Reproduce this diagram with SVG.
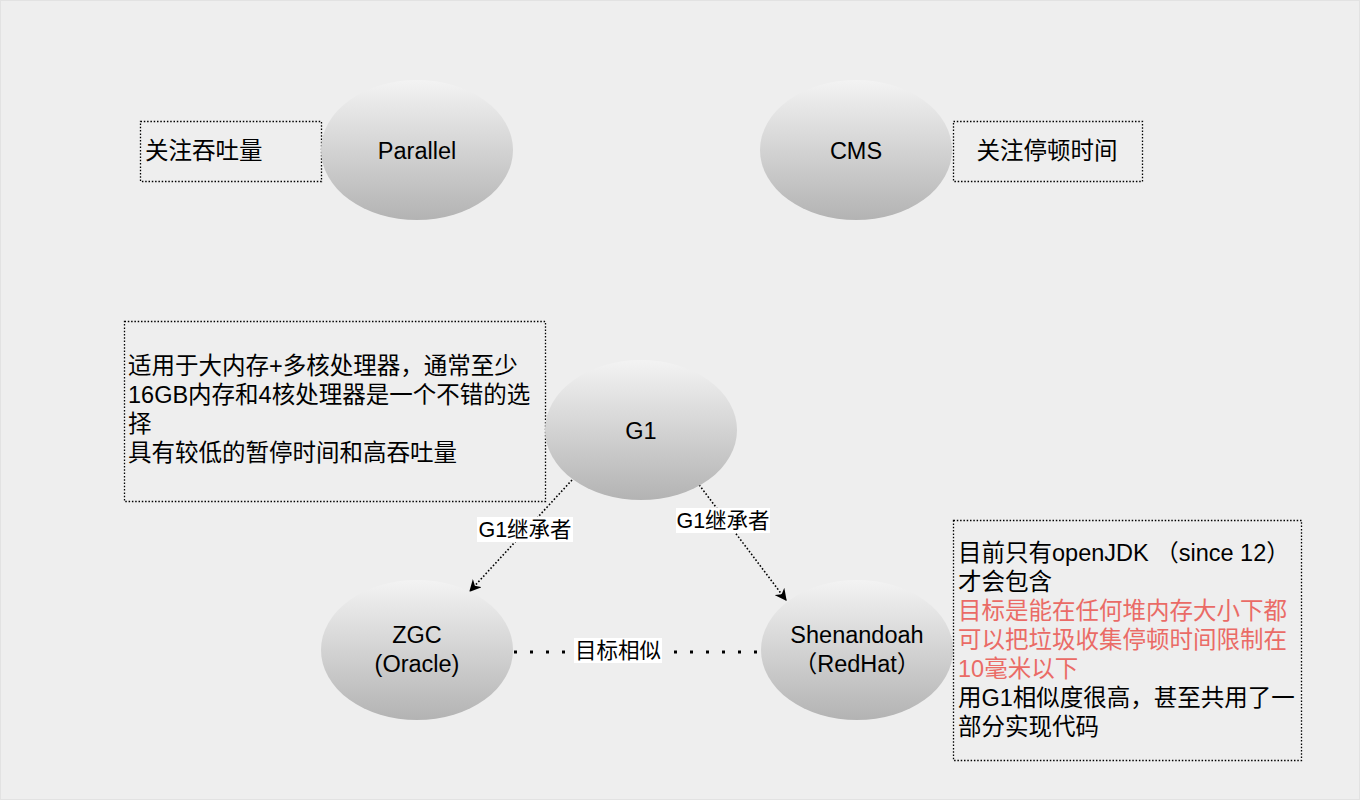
<svg xmlns="http://www.w3.org/2000/svg" width="1360" height="800" viewBox="0 0 1360 800">
<defs>
<linearGradient id="eg" x1="0" y1="0" x2="0" y2="1">
<stop offset="0" stop-color="#f3f3f3"/>
<stop offset="1" stop-color="#b3b3b3"/>
</linearGradient>
<marker id="arr" viewBox="0 0 10 10" refX="9" refY="5" markerWidth="12" markerHeight="12" markerUnits="userSpaceOnUse" orient="auto">
<path d="M0,0 L10,5 L0,10 L3,5 Z" fill="#000"/>
</marker>
<style>
.ell{fill:url(#eg);stroke:none}
.box{fill:none;stroke:#000;stroke-width:1.3;stroke-dasharray:1.5 1.8}
.t{font-family:"Liberation Sans","Noto Sans CJK SC",sans-serif;font-size:23.5px;fill:#000}
.c{text-anchor:middle}
.red{fill:#ea6b66}
.lbl{font-family:"Liberation Sans","Noto Sans CJK SC",sans-serif;font-size:21.5px;fill:#000;text-anchor:middle}
.edge{fill:none;stroke:#000;stroke-width:1.6;stroke-dasharray:1.6 2}
</style>
</defs>
<rect x="0" y="0" width="1360" height="800" fill="#eeeeee"/>
<rect x="0.5" y="0.5" width="1359" height="799" fill="none" stroke="#e2e2e2"/>

<g id="connectors">
<path class="edge" d="M572,480 L470,591" marker-end="url(#arr)"/>
<path class="edge" d="M697,482 L786,600" marker-end="url(#arr)"/>
<path d="M514,652 L760,652" fill="none" stroke="#000" stroke-width="3" stroke-dasharray="3 13"/>
<rect x="477" y="517" width="96" height="25" fill="#ffffff"/>
<text class="lbl" x="525" y="537">G1继承者</text>
<rect x="676" y="508" width="94" height="25" fill="#ffffff"/>
<text class="lbl" x="723" y="528">G1继承者</text>
<rect x="574" y="638" width="88" height="25" fill="#ffffff"/>
<text class="lbl" x="618" y="658">目标相似</text>
</g>

<g id="note-parallel">
<rect class="box" x="140.5" y="121.5" width="181" height="60"/>
<text class="t" x="145" y="159">关注吞吐量</text>
</g>
<g id="parallel">
<ellipse class="ell" cx="417" cy="150" rx="96" ry="70"/>
<text class="t c" x="417" y="159">Parallel</text>
</g>
<g id="cms">
<ellipse class="ell" cx="856" cy="150" rx="96" ry="70"/>
<text class="t c" x="856" y="159">CMS</text>
</g>
<g id="note-cms">
<rect class="box" x="953.5" y="121.5" width="189" height="60"/>
<text class="t c" x="1047" y="159">关注停顿时间</text>
</g>
<g id="note-g1">
<rect class="box" x="124.5" y="321.5" width="421" height="180"/>
<text class="t" x="128" y="374">适用于大内存+多核处理器，通常至少</text>
<text class="t" x="128" y="403">16GB内存和4核处理器是一个不错的选</text>
<text class="t" x="128" y="432">择</text>
<text class="t" x="128" y="461">具有较低的暂停时间和高吞吐量</text>
</g>
<g id="g1">
<ellipse class="ell" cx="641" cy="430" rx="96" ry="70"/>
<text class="t c" x="641" y="439">G1</text>
</g>
<g id="zgc">
<ellipse class="ell" cx="417" cy="650" rx="96" ry="70"/>
<text class="t c" x="417" y="643">ZGC</text>
<text class="t c" x="417" y="672">(Oracle)</text>
</g>
<g id="shenandoah">
<ellipse class="ell" cx="857" cy="650" rx="96" ry="70"/>
<text class="t c" x="857" y="643">Shenandoah</text>
<text class="t c" x="857" y="672">（RedHat）</text>
</g>
<g id="note-shenandoah">
<rect class="box" x="953.5" y="520.5" width="348" height="240"/>
<text class="t" x="958" y="561">目前只有openJDK （since 12）</text>
<text class="t" x="958" y="590">才会包含</text>
<text class="t red" x="958" y="619">目标是能在任何堆内存大小下都</text>
<text class="t red" x="958" y="648">可以把垃圾收集停顿时间限制在</text>
<text class="t red" x="958" y="677">10毫米以下</text>
<text class="t" x="958" y="706">用G1相似度很高，甚至共用了一</text>
<text class="t" x="958" y="735">部分实现代码</text>
</g>
</svg>
